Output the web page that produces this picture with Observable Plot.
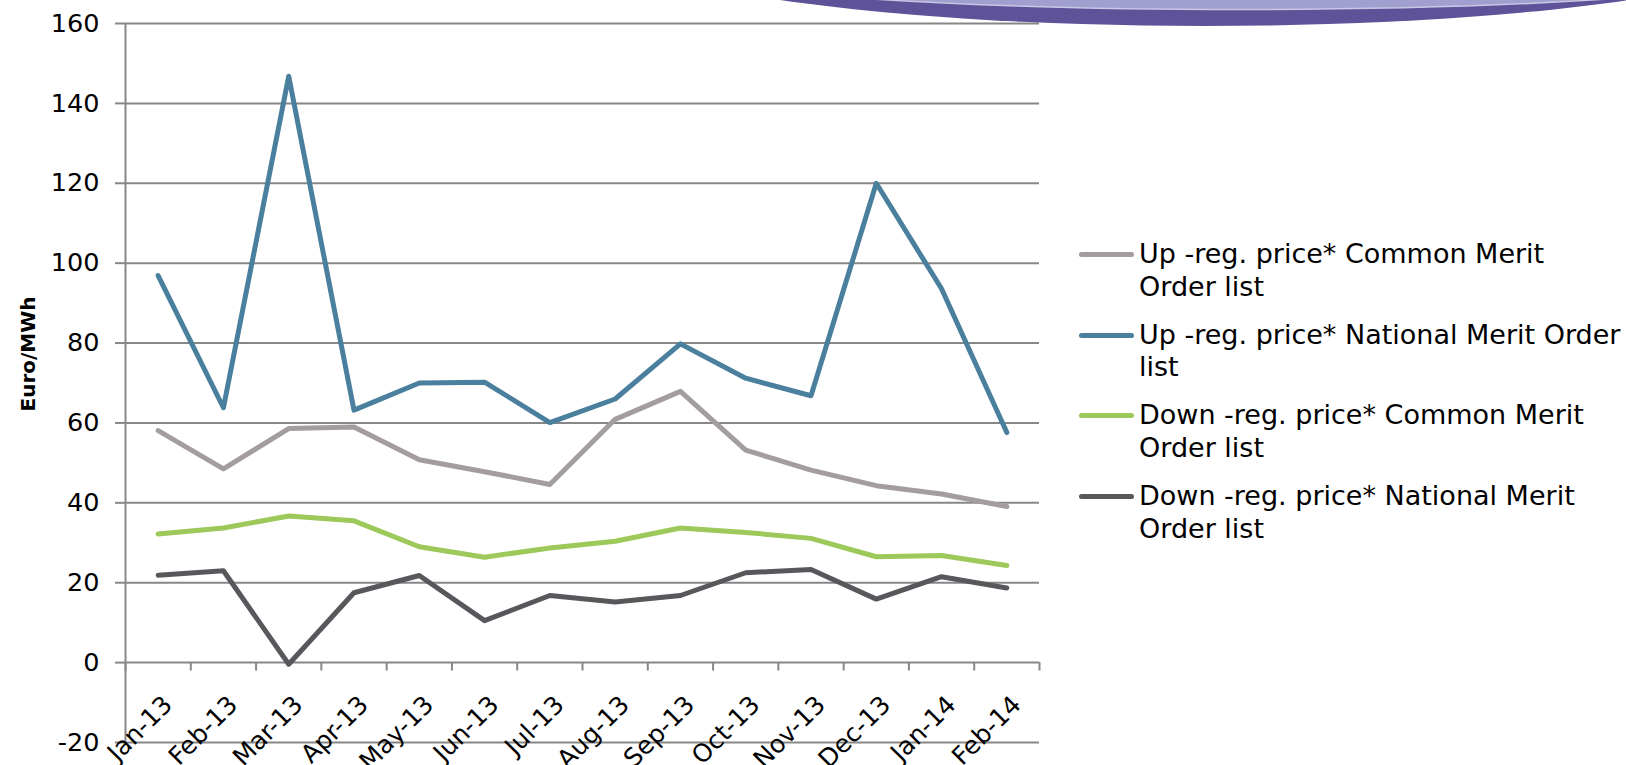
<!DOCTYPE html>
<html>
<head>
<meta charset="utf-8">
<script src="https://cdn.jsdelivr.net/npm/d3@7"></script>
<script src="https://cdn.jsdelivr.net/npm/@observablehq/plot@0.6"></script>
<style>
  html, body { margin: 0; padding: 0; background: #fff; }
  #wrap { position: relative; width: 1626px; height: 765px; overflow: hidden; font-family: "DejaVu Sans", Verdana, sans-serif; }
  #legend { position: absolute; left: 1079px; top: 0; }
  .row { position: absolute; left: 0; width: 545px; }
  .sw { position: absolute; left: 0; top: 14px; width: 55px; height: 5px; border-radius: 3px; }
  .lt { position: absolute; left: 60px; font-size: 27px; line-height: 32.5px; white-space: nowrap; color: #000; }
  #deco { position: absolute; left: 0; top: 0; }
</style>
</head>
<body>
<div id="wrap"></div>
<script>
const months = ["Jan-13","Feb-13","Mar-13","Apr-13","May-13","Jun-13","Jul-13","Aug-13","Sep-13","Oct-13","Nov-13","Dec-13","Jan-14","Feb-14"];
const upCommon   = [58.1, 48.5, 58.6, 59.0, 50.8, 47.8, 44.6, 60.9, 67.9, 53.2, 48.2, 44.3, 42.2, 39.1];
const upNational = [96.9, 63.8, 146.8, 63.2, 70.0, 70.2, 60.1, 66.0, 79.8, 71.2, 66.8, 120.0, 93.6, 57.6];
const downCommon = [32.2, 33.7, 36.7, 35.5, 29.0, 26.4, 28.7, 30.4, 33.7, 32.6, 31.1, 26.5, 26.8, 24.3];
const downNational = [21.9, 23.0, -0.4, 17.5, 21.8, 10.5, 16.8, 15.2, 16.8, 22.5, 23.3, 15.9, 21.5, 18.7];
const seriesNames = [
  "Up -reg. price* Common Merit|Order list",
  "Up -reg. price* National Merit Order|list",
  "Down -reg. price* Common Merit|Order list",
  "Down -reg. price* National Merit|Order list"
];
const seriesColors = ["#a39d9e", "#4a7f9e", "#9cc95a", "#58585c"];
const yTicks = [-20, 0, 20, 40, 60, 80, 100, 120, 140, 160];
const yLabel = "Euro/MWh";

const allSeries = [upCommon, upNational, downCommon, downNational];
const idx = months.map((m, i) => i);
const boundaries = d3.range(months.length + 1).map(k => k - 0.5);

const grid = "#878787";
const lineMarks = allSeries.map((vals, s) =>
  Plot.line(idx, {x: i => i, y: i => vals[i], stroke: seriesColors[s], strokeWidth: 5, strokeLinecap: "round", strokeLinejoin: "round"})
);

const chart = Plot.plot({
  width: 1626,
  height: 765,
  marginLeft: 125,
  marginRight: 587,
  marginTop: 23,
  marginBottom: 23,
  style: {fontFamily: "DejaVu Sans, Verdana, sans-serif", fontSize: "25px", background: "white", color: "black"},
  x: {type: "linear", domain: [-0.5, months.length - 0.5], axis: null},
  y: {domain: [-20, 160], axis: null},
  marks: [
    Plot.ruleY(yTicks, {stroke: grid, strokeWidth: 2}),
    Plot.ruleX([-0.5], {stroke: grid, strokeWidth: 2}),
    Plot.ruleX(boundaries, {x: d => d, y1: 0, y2: -2.1, stroke: grid, strokeWidth: 2}),
    Plot.axisY({ticks: yTicks, tickSize: 10, tickPadding: 16, tickFormat: d => String(d), stroke: grid, strokeWidth: 2, fill: "black", fontSize: 25.5, label: null}),
    Plot.text(idx, {x: i => i, y: () => 0, text: i => months[i], rotate: -45, textAnchor: "end", lineAnchor: "middle", dx: 10, dy: 38, fontSize: 25, fill: "black"}),
    Plot.text([yLabel], {frameAnchor: "left", text: d => d, rotate: -90, textAnchor: "middle", dx: -97, dy: -29, fontWeight: "bold", fontSize: 20, fill: "black"}),
    ...lineMarks
  ]
});

const wrap = document.getElementById("wrap");
wrap.appendChild(chart);

// legend
const legend = document.createElement("div");
legend.id = "legend";
seriesNames.forEach((name, s) => {
  const row = document.createElement("div");
  row.className = "row";
  row.style.top = (238 + s * 80.7) + "px";
  const sw = document.createElement("div");
  sw.className = "sw";
  sw.style.background = seriesColors[s];
  const lt = document.createElement("div");
  lt.className = "lt";
  const parts = name.split("|");
  lt.appendChild(document.createTextNode(parts[0]));
  lt.appendChild(document.createElement("br"));
  lt.appendChild(document.createTextNode(parts[1]));
  row.appendChild(sw);
  row.appendChild(lt);
  legend.appendChild(row);
});
wrap.appendChild(legend);

// decorative header shape (top right)
const ns = "http://www.w3.org/2000/svg";
const deco = document.createElementNS(ns, "svg");
deco.setAttribute("id", "deco");
deco.setAttribute("width", 1626);
deco.setAttribute("height", 765);
deco.setAttribute("style", "position:absolute;left:0;top:0;pointer-events:none");
const e1 = document.createElementNS(ns, "ellipse");
e1.setAttribute("cx", 1205); e1.setAttribute("cy", -74); e1.setAttribute("rx", 632); e1.setAttribute("ry", 100);
e1.setAttribute("fill", "#5e5399");
const e2 = document.createElementNS(ns, "ellipse");
e2.setAttribute("cx", 1240); e2.setAttribute("cy", -50.5); e2.setAttribute("rx", 648); e2.setAttribute("ry", 60);
e2.setAttribute("fill", "#a19fcf"); e2.setAttribute("stroke", "#c9c7e6"); e2.setAttribute("stroke-width", 1.5);
deco.appendChild(e1);
deco.appendChild(e2);
wrap.appendChild(deco);
</script>
</body>
</html>
